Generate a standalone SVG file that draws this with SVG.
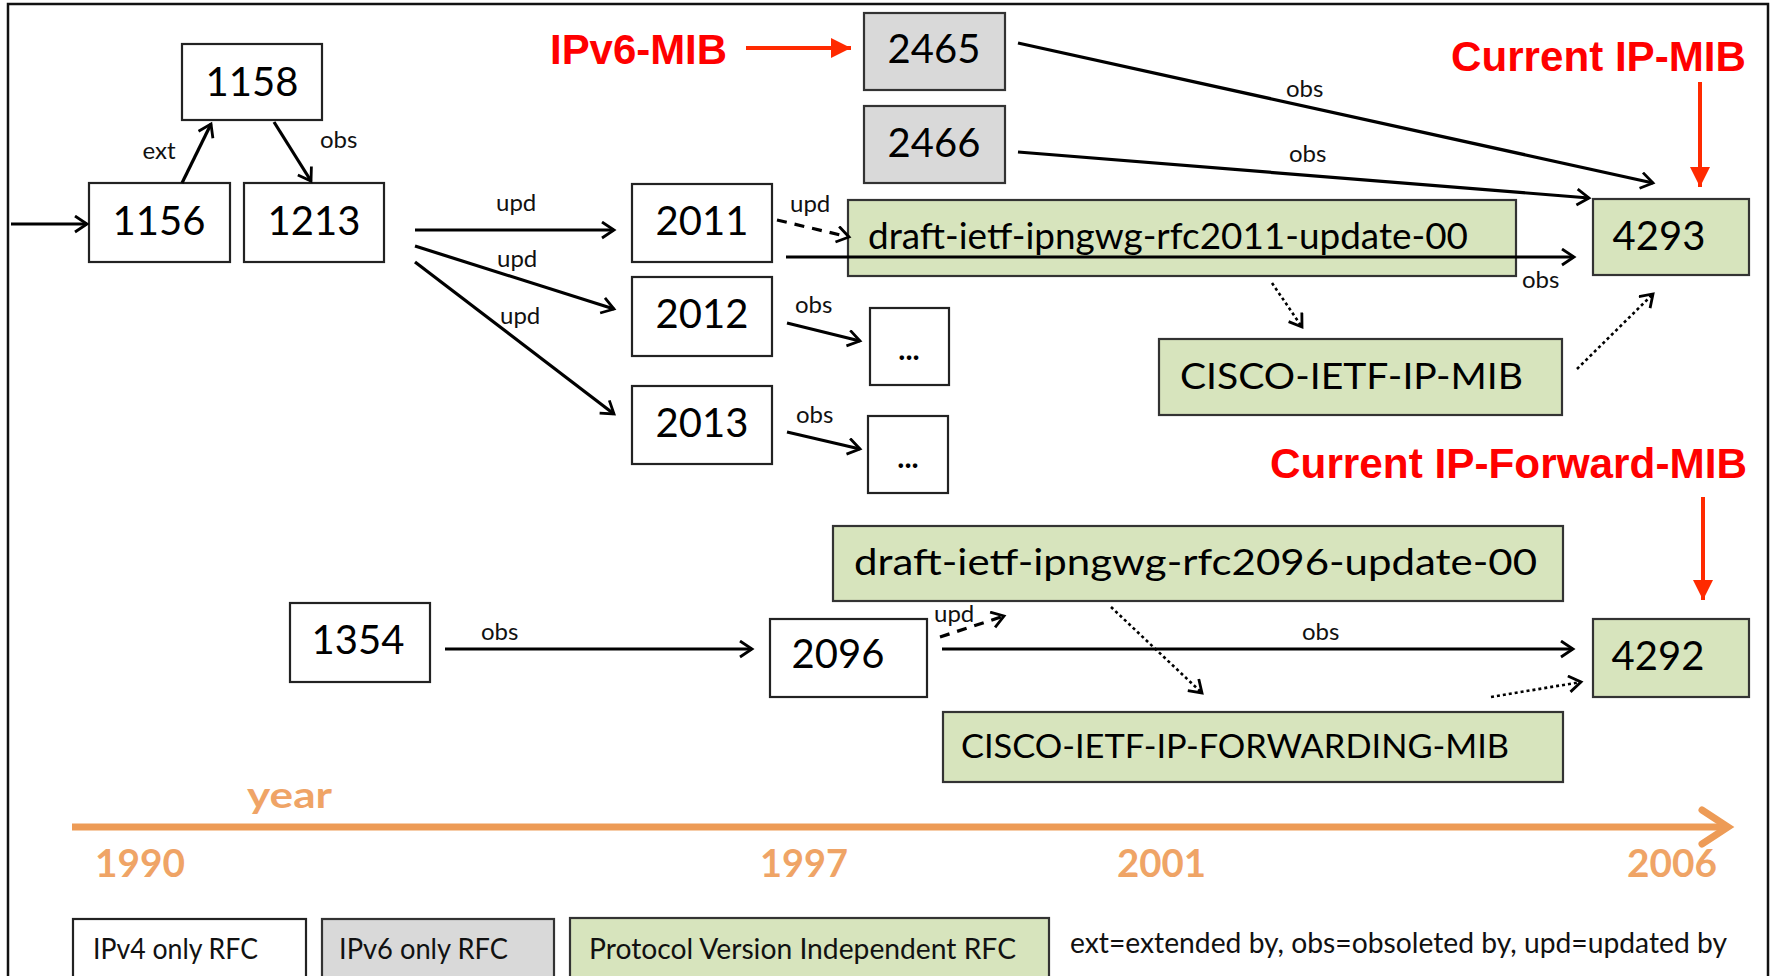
<svg xmlns="http://www.w3.org/2000/svg" width="1770" height="976" viewBox="0 0 1770 976">
<style>
.box{fill:#ffffff;stroke:#222;stroke-width:2.2}
.gray{fill:#d9d9d9;stroke:#333;stroke-width:2.2}
.green{fill:#d7e4bd;stroke:#333;stroke-width:2.2}
.num{font-family:Lato,"Open Sans",sans-serif;font-size:40px;fill:#000;text-anchor:middle}
.lbl{font-family:Lato,"Open Sans",sans-serif;font-size:36px;fill:#000}
.sm{font-family:Lato,"Open Sans",sans-serif;font-size:24px;fill:#111}
.red{font-family:"Liberation Sans",Arial,sans-serif;font-weight:bold;font-size:42px;fill:#ff0000}
.yr{font-family:Lato,"Open Sans",sans-serif;font-weight:bold;font-size:38px;fill:#efa466}
.leg{font-family:Lato,"Open Sans",sans-serif;font-size:28px;fill:#111}
.c{fill:none;stroke:#000;stroke-width:3.2}
.dash{stroke-dasharray:10 8}
.dot{stroke-dasharray:3 3;stroke-width:2.6}
.rc{fill:none;stroke:#ff2a00;stroke-width:4}
</style>
<defs>
<marker id="ah" markerUnits="userSpaceOnUse" markerWidth="18" markerHeight="20" refX="14" refY="9" orient="auto" viewBox="0 0 18 20">
<path d="M2,1 L14,9 L2,17" fill="none" stroke="#000" stroke-width="2.8" stroke-linejoin="miter"/>
</marker>
<marker id="rh" markerUnits="userSpaceOnUse" markerWidth="22" markerHeight="22" refX="20" refY="11" orient="auto" viewBox="0 0 22 22">
<path d="M0,1 L20,11 L0,21 Z" fill="#ff2a00"/>
</marker>
</defs>
<rect x="8" y="4" width="1760" height="1010" fill="#ffffff" stroke="#111" stroke-width="2.5"/>

<g id="n1158"><rect class="box" x="182" y="44" width="140" height="76"/><text class="num" x="252" y="96">1158</text></g>
<g id="n1156"><rect class="box" x="89" y="183" width="141" height="79"/><text class="num" x="159" y="235">1156</text></g>
<g id="n1213"><rect class="box" x="244" y="183" width="140" height="79"/><text class="num" x="314" y="235">1213</text></g>
<g id="n2011"><rect class="box" x="632" y="184" width="140" height="78"/><text class="num" x="702" y="235">2011</text></g>
<g id="n2012"><rect class="box" x="632" y="277" width="140" height="79"/><text class="num" x="702" y="328">2012</text></g>
<g id="n2013"><rect class="box" x="632" y="386" width="140" height="78"/><text class="num" x="702" y="437">2013</text></g>
<g id="dots1"><rect class="box" x="870" y="308" width="79" height="77"/><text class="num" x="909" y="360" style="font-size:30px;font-weight:bold">...</text></g>
<g id="dots2"><rect class="box" x="868" y="416" width="80" height="77"/><text class="num" x="908" y="468" style="font-size:30px;font-weight:bold">...</text></g>
<g id="n2465"><rect class="gray" x="864" y="13" width="141" height="77"/><text class="num" x="934" y="63">2465</text></g>
<g id="n2466"><rect class="gray" x="864" y="106" width="141" height="77"/><text class="num" x="934" y="157">2466</text></g>
<g id="draft2011"><rect class="green" x="848" y="200" width="668" height="76"/><text class="lbl" x="868" y="249" textLength="600" lengthAdjust="spacingAndGlyphs">draft-ietf-ipngwg-rfc2011-update-00</text></g>
<g id="n4293"><rect class="green" x="1593" y="199" width="156" height="76"/><text class="num" x="1659" y="250">4293</text></g>
<g id="ciscoip"><rect class="green" x="1159" y="339" width="403" height="76"/><text class="lbl" x="1180" y="389" textLength="343" lengthAdjust="spacingAndGlyphs">CISCO-IETF-IP-MIB</text></g>
<g id="draft2096"><rect class="green" x="833" y="526" width="730" height="75"/><text class="lbl" x="854" y="575" textLength="683" lengthAdjust="spacingAndGlyphs">draft-ietf-ipngwg-rfc2096-update-00</text></g>
<g id="n1354"><rect class="box" x="290" y="603" width="140" height="79"/><text class="num" x="358" y="654">1354</text></g>
<g id="n2096"><rect class="box" x="770" y="619" width="157" height="78"/><text class="num" x="838" y="668">2096</text></g>
<g id="n4292"><rect class="green" x="1593" y="619" width="156" height="78"/><text class="num" x="1658" y="670">4292</text></g>
<g id="ciscofwd"><rect class="green" x="943" y="712" width="620" height="70"/><text class="lbl" x="961" y="758" style="font-size:32px" textLength="548" lengthAdjust="spacingAndGlyphs">CISCO-IETF-IP-FORWARDING-MIB</text></g>

<g id="connectors">
<line class="c" x1="11" y1="224" x2="87" y2="224" marker-end="url(#ah)"/>
<line class="c" x1="182" y1="183" x2="211" y2="124" marker-end="url(#ah)"/>
<line class="c" x1="274" y1="122" x2="311" y2="181" marker-end="url(#ah)"/>
<line class="c" x1="415" y1="230" x2="614" y2="230" marker-end="url(#ah)"/>
<line class="c" x1="415" y1="246" x2="614" y2="309" marker-end="url(#ah)"/>
<line class="c" x1="415" y1="262" x2="614" y2="414" marker-end="url(#ah)"/>
<line class="c dash" x1="777" y1="220" x2="849" y2="237" marker-end="url(#ah)"/>
<line class="c" x1="786" y1="257" x2="1574" y2="257" marker-end="url(#ah)"/>
<line class="c" x1="787" y1="323" x2="860" y2="341" marker-end="url(#ah)"/>
<line class="c" x1="787" y1="432" x2="860" y2="449" marker-end="url(#ah)"/>
<line class="c" x1="1018" y1="43" x2="1653" y2="183" marker-end="url(#ah)"/>
<line class="c" x1="1018" y1="152" x2="1589" y2="198" marker-end="url(#ah)"/>
<line class="c dot" x1="1272" y1="283" x2="1302" y2="327" marker-end="url(#ah)"/>
<line class="c dot" x1="1577" y1="369" x2="1653" y2="294" marker-end="url(#ah)"/>
<line class="c" x1="445" y1="649" x2="752" y2="649" marker-end="url(#ah)"/>
<line class="c dash" x1="940" y1="637" x2="1004" y2="616" marker-end="url(#ah)"/>
<line class="c" x1="942" y1="649" x2="1573" y2="649" marker-end="url(#ah)"/>
<line class="c dot" x1="1111" y1="607" x2="1202" y2="693" marker-end="url(#ah)"/>
<line class="c dot" x1="1491" y1="697" x2="1581" y2="682" marker-end="url(#ah)"/>
<line class="rc" x1="746" y1="48" x2="851" y2="48" marker-end="url(#rh)"/>
<line class="rc" x1="1700" y1="82" x2="1700" y2="187" marker-end="url(#rh)"/>
<line class="rc" x1="1703" y1="497" x2="1703" y2="600" marker-end="url(#rh)"/>
</g>

<g id="edge-labels">
<text class="sm" x="159" y="159" text-anchor="middle">ext</text>
<text class="sm" x="320" y="148">obs</text>
<text class="sm" x="496" y="211">upd</text>
<text class="sm" x="497" y="267">upd</text>
<text class="sm" x="500" y="324">upd</text>
<text class="sm" x="790" y="212">upd</text>
<text class="sm" x="795" y="313">obs</text>
<text class="sm" x="796" y="423">obs</text>
<text class="sm" x="1286" y="97">obs</text>
<text class="sm" x="1289" y="162">obs</text>
<text class="sm" x="1522" y="288">obs</text>
<text class="sm" x="481" y="640">obs</text>
<text class="sm" x="934" y="622">upd</text>
<text class="sm" x="1302" y="640">obs</text>
</g>

<g id="annotations">
<text class="red" x="550" y="64" textLength="177" lengthAdjust="spacingAndGlyphs">IPv6-MIB</text>
<text class="red" x="1451" y="71" textLength="295" lengthAdjust="spacingAndGlyphs">Current IP-MIB</text>
<text class="red" x="1270" y="478" textLength="477" lengthAdjust="spacingAndGlyphs">Current IP-Forward-MIB</text>
</g>

<g id="timeline">
<line x1="72" y1="827" x2="1724" y2="827" stroke="#ed9b56" stroke-width="7"/>
<path d="M1702,810 L1728,827 L1702,844" fill="none" stroke="#ed9b56" stroke-width="7" stroke-linecap="round"/>
<text class="yr" x="247" y="808" style="font-size:36px" textLength="85" lengthAdjust="spacingAndGlyphs">year</text>
<text class="yr" x="95" y="877" textLength="90" lengthAdjust="spacingAndGlyphs">1990</text>
<text class="yr" x="760" y="877" textLength="88" lengthAdjust="spacingAndGlyphs">1997</text>
<text class="yr" x="1117" y="877" textLength="89" lengthAdjust="spacingAndGlyphs">2001</text>
<text class="yr" x="1627" y="877" textLength="90" lengthAdjust="spacingAndGlyphs">2006</text>
</g>

<g id="legend">
<rect class="box" x="73" y="919" width="233" height="80"/>
<text class="leg" x="93" y="959" textLength="165" lengthAdjust="spacingAndGlyphs">IPv4 only RFC</text>
<rect class="gray" x="322" y="919" width="232" height="80"/>
<text class="leg" x="339" y="959" textLength="169" lengthAdjust="spacingAndGlyphs">IPv6 only RFC</text>
<rect class="green" x="570" y="918" width="479" height="80"/>
<text class="leg" x="589" y="959" textLength="427" lengthAdjust="spacingAndGlyphs">Protocol Version Independent RFC</text>
<text class="leg" x="1070" y="953" textLength="657" lengthAdjust="spacingAndGlyphs">ext=extended by, obs=obsoleted by, upd=updated by</text>
</g>
</svg>
